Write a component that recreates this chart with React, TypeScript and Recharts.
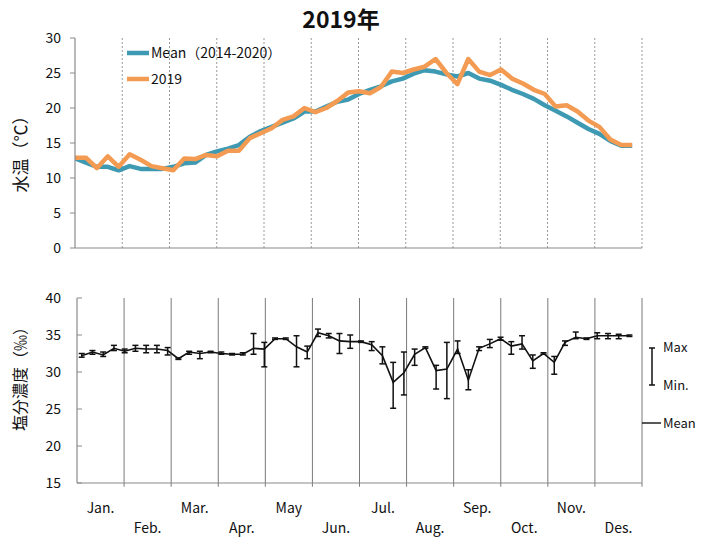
import React from 'react';
import { LineChart, Line, XAxis, YAxis, ReferenceLine, ErrorBar } from 'recharts';

const FONT = '"Noto Sans CJK JP", "Noto Sans", sans-serif';

const weeks = [
  0, 1, 2, 3, 4, 5, 6, 7, 8, 9, 10, 11, 12, 13, 14, 15, 16, 17, 18, 19, 20, 21, 22, 23, 24, 25,
  26, 27, 28, 29, 30, 31, 32, 33, 34, 35, 36, 37, 38, 39, 40, 41, 42, 43, 44, 45, 46, 47, 48, 49, 50, 51,
];

const meanTemp = [
  12.8, 12.2, 11.6, 11.6, 11.1, 11.7, 11.3, 11.3, 11.3, 11.6, 12.1, 12.2, 13.3, 13.8, 14.2, 14.7, 15.9,
  16.7, 17.3, 17.9, 18.5, 19.5, 19.5, 20.2, 20.9, 21.2, 22.0, 22.6, 23.1, 23.8, 24.2, 24.9, 25.4, 25.2,
  24.8, 24.5, 25.0, 24.2, 23.9, 23.3, 22.6, 22.0, 21.3, 20.4, 19.6, 18.8, 17.9, 17.0, 16.3, 15.3, 14.6, 14.6,
];

const temp2019 = [
  12.9, 12.9, 11.4, 13.1, 11.6, 13.4, 12.6, 11.7, 11.4, 11.1, 12.8, 12.7, 13.3, 13.1, 13.9, 13.9, 15.7,
  16.4, 17.1, 18.3, 18.8, 20.0, 19.4, 20.0, 21.0, 22.2, 22.4, 22.1, 23.0, 25.2, 25.0, 25.5, 25.9, 27.0,
  25.0, 23.4, 27.0, 25.2, 24.7, 25.5, 24.2, 23.5, 22.6, 22.0, 20.2, 20.4, 19.5, 18.2, 17.3, 15.5, 14.7, 14.7,
];

const salMean = [
  32.2, 32.7, 32.3, 33.2, 32.8, 33.2, 33.1, 33.1, 32.9, 31.8, 32.7, 32.5, 32.7, 32.5, 32.4, 32.4, 33.2,
  33.1, 34.5, 34.5, 33.4, 32.7, 35.3, 34.9, 34.2, 34.1, 34.1, 33.7, 32.2, 28.6, 29.9, 32.4, 33.3, 30.2,
  30.4, 33.1, 28.9, 33.2, 33.8, 34.5, 33.5, 33.8, 31.5, 32.5, 31.3, 34.0, 34.7, 34.5, 34.9, 34.9, 34.9, 34.9,
];
const salMax = [
  32.5, 32.9, 32.7, 33.6, 33.1, 33.6, 33.6, 33.6, 33.3, 31.9, 32.8, 32.8, 32.8, 32.7, 32.5, 32.6, 35.2,
  34.0, 34.6, 34.6, 34.9, 33.5, 35.8, 35.2, 35.2, 35.0, 34.2, 34.1, 33.4, 31.3, 32.7, 33.1, 33.4, 30.9,
  34.0, 34.2, 30.3, 33.4, 34.4, 34.7, 34.1, 34.9, 32.3, 32.6, 32.1, 34.2, 35.4, 34.6, 35.3, 35.2, 35.1, 35.0,
];
const salMin = [
  32.0, 32.4, 32.1, 32.9, 32.6, 32.8, 32.6, 32.6, 32.3, 31.7, 32.4, 31.8, 32.6, 32.4, 32.3, 32.3, 32.4,
  30.7, 34.4, 34.4, 30.7, 31.8, 34.8, 34.6, 32.5, 33.2, 34.0, 32.9, 31.1, 25.1, 26.9, 30.9, 33.2, 27.7,
  26.4, 32.5, 27.6, 32.9, 33.3, 34.3, 32.4, 33.1, 30.5, 32.4, 29.7, 33.6, 34.5, 34.4, 34.5, 34.5, 34.5, 34.8,
];

const monthLabels = ['Jan.', 'Feb.', 'Mar.', 'Apr.', 'May', 'Jun.', 'Jul.', 'Aug.', 'Sep.', 'Oct.', 'Nov.', 'Des.'];
const tempTicks = [0, 5, 10, 15, 20, 25, 30];
const salTicks = [15, 20, 25, 30, 35, 40];

const tempData = weeks.map((w, i) => ({ x: w, mean: meanTemp[i], y2019: temp2019[i] }));
const salData = weeks.map((w, i) => ({
  x: w,
  mean: salMean[i],
  err: [salMean[i] - salMin[i], salMax[i] - salMean[i]],
}));

const TOP_DOMAIN: [number, number] = [0, 51.9];
const BOT_DOMAIN: [number, number] = [-0.44, 52.17];
const monthIdx = [1, 2, 3, 4, 5, 6, 7, 8, 9, 10, 11, 12];
const topMonthLines = monthIdx.map((k) => TOP_DOMAIN[0] + (k * (TOP_DOMAIN[1] - TOP_DOMAIN[0])) / 12);
const botMonthLines = monthIdx.map((k) => BOT_DOMAIN[0] + (k * (BOT_DOMAIN[1] - BOT_DOMAIN[0])) / 12);
const botMonthCenters = monthIdx.map((k) => BOT_DOMAIN[0] + ((k - 0.5) * (BOT_DOMAIN[1] - BOT_DOMAIN[0])) / 12);

const TEAL = '#3E99B2';
const ORANGE = '#F39B52';
const AXIS = '#8a8a8a';

const MonthTick = (props: any) => {
  const { x, y, index } = props;
  const row = index % 2 === 0 ? 30 : 50;
  return (
    <text x={x} y={y + row} textAnchor="middle" fontSize={14} fontFamily={FONT} fill="#111">
      {monthLabels[index]}
    </text>
  );
};

export default function App() {
  return (
    <div style={{ position: 'absolute', left: 0, top: 0, width: 720, height: 540, background: '#fff', overflow: 'hidden' }}>
      <div style={{ position: 'absolute', left: 0, top: 0 }}>
        <LineChart width={720} height={270} data={tempData} margin={{ top: 38, right: 78, bottom: 21, left: 0 }}>
          <XAxis
            dataKey="x"
            type="number"
            domain={TOP_DOMAIN}
            allowDataOverflow
            tick={false}
            tickLine={false}
            height={1}
            axisLine={{ stroke: AXIS, strokeWidth: 1.2 }}
          />
          <YAxis
            type="number"
            domain={[0, 30]}
            ticks={tempTicks}
            width={75}
            tickSize={5}
            tickMargin={9}
            axisLine={{ stroke: AXIS, strokeWidth: 1.2 }}
            tickLine={{ stroke: AXIS }}
            tick={{ fontSize: 14, fontFamily: FONT, fill: '#111' }}
          />
          {topMonthLines.map((m, k) => (
            <ReferenceLine key={k} x={m} stroke="#9a9a9a" strokeDasharray="2 2" ifOverflow="visible" />
          ))}
          <Line
            dataKey="mean"
            stroke={TEAL}
            strokeWidth={4.5}
            dot={false}
            isAnimationActive={false}
            strokeLinejoin="round"
          />
          <Line
            dataKey="y2019"
            stroke={ORANGE}
            strokeWidth={4.5}
            dot={false}
            isAnimationActive={false}
            strokeLinejoin="round"
          />
        </LineChart>
      </div>

      <div style={{ position: 'absolute', left: 0, top: 280 }}>
        <LineChart width={720} height={260} data={salData} margin={{ top: 18, right: 78, bottom: 0, left: 0 }}>
          <XAxis
            dataKey="x"
            type="number"
            domain={BOT_DOMAIN}
            allowDataOverflow
            ticks={botMonthCenters}
            interval={0}
            tick={<MonthTick />}
            tickLine={false}
            tickSize={0}
            tickMargin={0}
            height={57}
            axisLine={{ stroke: AXIS, strokeWidth: 1.2 }}
          />
          <YAxis
            type="number"
            domain={[15, 40]}
            allowDataOverflow
            ticks={salTicks}
            width={77}
            tickSize={-5}
            tickMargin={21}
            axisLine={{ stroke: AXIS, strokeWidth: 1.2 }}
            tickLine={{ stroke: AXIS }}
            tick={{ fontSize: 14, fontFamily: FONT, fill: '#111' }}
          />
          {botMonthLines.map((m, k) => (
            <ReferenceLine
              key={k}
              segment={[{ x: m, y: 14.5 }, { x: m, y: 40 }]}
              stroke="#7a7a7a"
              strokeWidth={1}
              ifOverflow="visible"
            />
          ))}
          <Line
            dataKey="mean"
            stroke="#111"
            strokeWidth={1.6}
            dot={false}
            isAnimationActive={false}
          >
            <ErrorBar dataKey="err" width={3} stroke="#111" strokeWidth={1.5} direction="y" isAnimationActive={false} />
          </Line>
        </LineChart>
      </div>

      <svg
        width={720}
        height={540}
        style={{ position: 'absolute', left: 0, top: 0, pointerEvents: 'none' }}
        fontFamily={FONT}
      >
        <text x={341} y={28} textAnchor="middle" fontSize={23} fontWeight="bold" fill="#111">
          2019年
        </text>
        <text x={22} y={150} transform="rotate(-90 22 150)" textAnchor="middle" fontSize={17} fill="#111" dominantBaseline="middle">
          水温（℃）
        </text>
        <text x={22} y={375} transform="rotate(-90 22 375)" textAnchor="middle" fontSize={16} fill="#111" dominantBaseline="middle">
          塩分濃度（‰）
        </text>

        <line x1={127} y1={53} x2={149} y2={53} stroke={TEAL} strokeWidth={4.5} />
        <text x={151} y={58} fontSize={14} fill="#111">Mean（2014-2020）</text>
        <line x1={127} y1={79} x2={149} y2={79} stroke={ORANGE} strokeWidth={4.5} />
        <text x={151} y={84} fontSize={14} fill="#111">2019</text>

        <line x1={652} y1={348} x2={652} y2={385} stroke="#111" strokeWidth={1.5} />
        <line x1={649} y1={348} x2={655} y2={348} stroke="#111" strokeWidth={1.5} />
        <line x1={649} y1={385} x2={655} y2={385} stroke="#111" strokeWidth={1.5} />
        <text x={663} y={352} fontSize={13} fill="#111">Max</text>
        <text x={663} y={390} fontSize={13} fill="#111">Min.</text>
        <line x1={642} y1={423} x2={661} y2={423} stroke="#111" strokeWidth={1.4} />
        <text x={663} y={428} fontSize={13} fill="#111">Mean</text>
      </svg>
    </div>
  );
}
